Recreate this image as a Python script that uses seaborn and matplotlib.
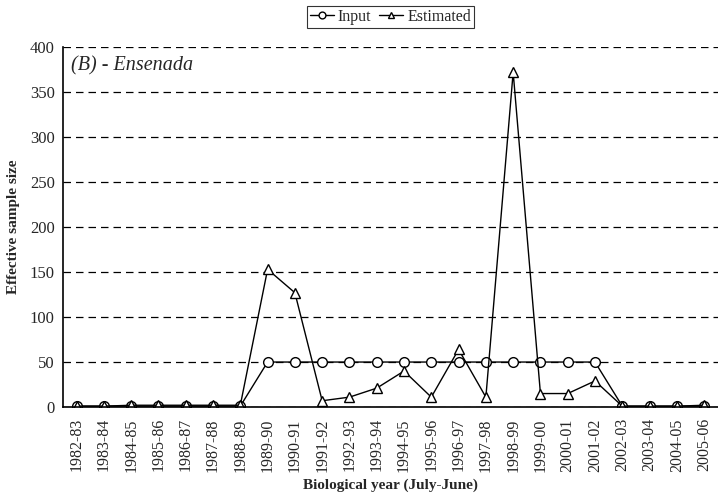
import matplotlib
matplotlib.use("Agg")
import matplotlib.pyplot as plt
import seaborn as sns
import numpy as np
import pandas as pd

years = ["1982-83", "1983-84", "1984-85", "1985-86", "1986-87", "1987-88",
         "1988-89", "1989-90", "1990-91", "1991-92", "1992-93", "1993-94",
         "1994-95", "1995-96", "1996-97", "1997-98", "1998-99", "1999-00",
         "2000-01", "2001-02", "2002-03", "2003-04", "2004-05", "2005-06"]
input_vals = [1, 1, 1, 1, 1, 1, 1, 50, 50, 50, 50, 50, 50, 50, 50, 50, 50, 50,
              50, 50, 1, 1, 1, 1]
estimated_vals = [1, 1, 2, 2, 2, 2, 2, 153, 127, 7, 11, 21, 40, 11, 64, 11, 372,
                  15, 15, 29, 1, 1, 1, 2]

df = pd.DataFrame({
    "idx": np.arange(len(years)),
    "Input": input_vals,
    "Estimated": estimated_vals,
})

sns.set_style("white")
plt.rcParams["font.family"] = ["Liberation Serif", "DejaVu Serif"]

fig = plt.figure(figsize=(7.18, 4.97), dpi=100)
ax = fig.add_axes([0.0877, 0.181, 0.912, 0.7244])

sns.lineplot(data=df, x="idx", y="Input", ax=ax, color="black", lw=1,
             marker="o", markersize=7, markerfacecolor="white",
             markeredgecolor="black", markeredgewidth=1, label="Input")
sns.lineplot(data=df, x="idx", y="Estimated", ax=ax, color="black", lw=1,
             marker="^", markersize=7, markerfacecolor="white",
             markeredgecolor="black", markeredgewidth=1, label="Estimated")

ax.set_xlim(-0.5, len(years) - 0.5)
ax.set_ylim(0, 400)
ax.set_yticks(np.arange(0, 401, 50))
ax.yaxis.grid(True, linestyle=(0, (6, 4)), color="black", lw=0.9)
ax.set_axisbelow(True)

ax.set_xticks(np.arange(len(years)))
ax.set_xticklabels(years, rotation=90, fontsize=11.5)
ax.set_xticks(np.arange(-0.5, len(years), 1), minor=True)
ax.tick_params(axis="x", which="major", length=0, pad=8)
ax.tick_params(axis="x", which="minor", length=4, direction="inout", width=1)
ax.tick_params(axis="y", length=5, direction="inout", width=1, labelsize=12)

for s in ["top", "right"]:
    ax.spines[s].set_visible(False)
for s in ["left", "bottom"]:
    ax.spines[s].set_color("black")
    ax.spines[s].set_linewidth(1.2)

ax.set_xlabel("Biological year (July-June)", fontsize=11, fontweight="bold",
              labelpad=5)
ax.set_ylabel("Effective sample size", fontsize=11, fontweight="bold",
              labelpad=7)
ax.text(0.012, 0.975, "(B) - Ensenada", transform=ax.transAxes, fontsize=14.5,
        style="italic", va="top", ha="left")

leg = ax.legend(loc="lower center", bbox_to_anchor=(0.5, 1.053), ncol=2,
                frameon=True, fontsize=11.5, handlelength=1.5,
                handletextpad=0.25, columnspacing=0.5, borderpad=0.2,
                borderaxespad=0, fancybox=False, edgecolor="black",
                markerscale=0.7)
leg.get_frame().set_linewidth(0.8)

fig.savefig("out.png", dpi=100)
